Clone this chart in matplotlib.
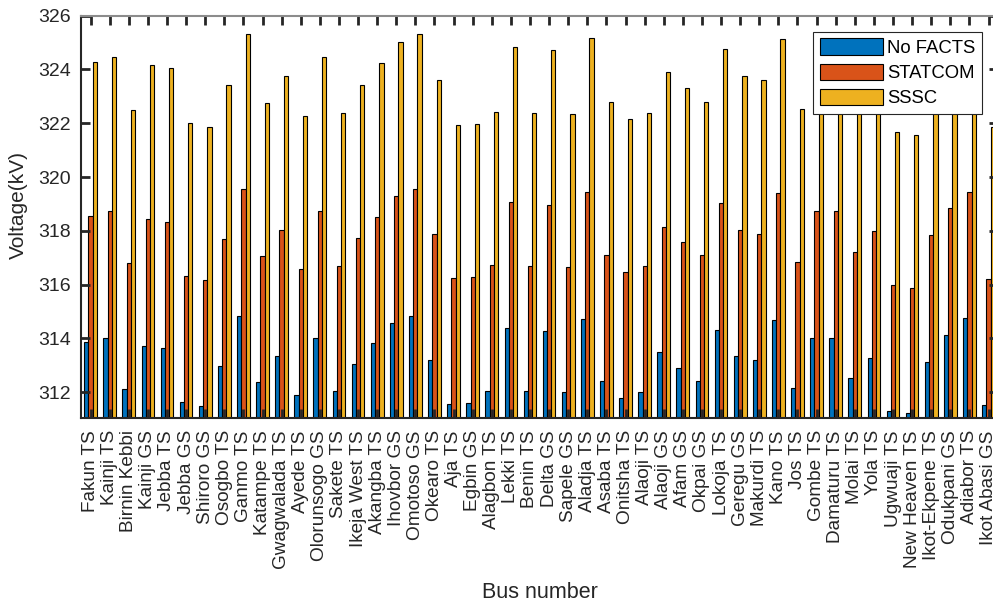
import matplotlib
matplotlib.use("Agg")
import matplotlib.pyplot as plt
import numpy as np

plt.rcParams['font.family'] = ['Liberation Sans', 'DejaVu Sans']

buses = ["Fakun TS", "Kainji TS", "Birnin Kebbi", "Kainji GS", "Jebba TS", "Jebba GS",
         "Shiroro GS", "Osogbo TS", "Ganmo TS", "Katampe TS", "Gwagwalada TS", "Ayede TS",
         "Olorunsogo GS", "Sakete TS", "Ikeja West TS", "Akangba TS", "Ihovbor GS",
         "Omotoso GS", "Okearo TS", "Aja TS", "Egbin GS", "Alagbon TS", "Lekki TS",
         "Benin TS", "Delta GS", "Sapele GS", "Aladja TS", "Asaba TS", "Onitsha TS",
         "Alaoji TS", "Alaoji GS", "Afam GS", "Okpai GS", "Lokoja TS", "Geregu GS",
         "Makurdi TS", "Kano TS", "Jos TS", "Gombe TS", "Damaturu TS", "Molai TS",
         "Yola TS", "Ugwuaji TS", "New Heaven TS", "Ikot-Ekpene TS", "Odukpani GS",
         "Adiabor TS", "Ikot Abasi GS"]

no_facts = [313.85, 314.02, 312.11, 313.72, 313.63, 311.65, 311.48, 312.99, 314.85, 312.36,
            313.34, 311.90, 314.01, 312.03, 313.03, 313.81, 314.57, 314.84, 313.19, 311.55,
            311.60, 312.04, 314.37, 312.03, 314.26, 311.99, 314.73, 312.41, 311.80, 312.01,
            313.48, 312.89, 312.42, 314.33, 313.34, 313.20, 314.67, 312.15, 314.03, 314.02,
            312.53, 313.28, 311.31, 311.22, 313.13, 314.12, 314.74, 311.52]

statcom = [318.54, 318.72, 316.79, 318.43, 318.33, 316.33, 316.16, 317.68, 319.56, 317.05,
           318.04, 316.58, 318.72, 316.70, 317.72, 318.50, 319.28, 319.55, 317.88, 316.23,
           316.28, 316.72, 319.08, 316.70, 318.97, 316.66, 319.43, 317.09, 316.46, 316.69,
           318.16, 317.58, 317.09, 319.03, 318.04, 317.90, 319.39, 316.83, 318.73, 318.72,
           317.20, 317.98, 315.97, 315.89, 317.83, 318.83, 319.45, 316.19]

sssc = [324.28, 324.45, 322.48, 324.15, 324.05, 322.02, 321.85, 323.41, 325.31, 322.74,
        323.76, 322.27, 324.45, 322.39, 323.43, 324.23, 325.02, 325.31, 323.60, 321.92,
        321.96, 322.42, 324.82, 322.39, 324.71, 322.35, 325.18, 322.79, 322.17, 322.38,
        323.89, 323.30, 322.79, 324.77, 323.76, 323.61, 325.13, 322.53, 324.46, 324.45,
        322.96, 323.71, 321.66, 321.56, 323.56, 324.55, 325.17, 321.87]

series = [("No FACTS", no_facts, "#0072BD"),
          ("STATCOM", statcom, "#D95319"),
          ("SSSC", sssc, "#EDB120")]

fig = plt.figure(figsize=(9.93, 6.05), dpi=100)
ax = fig.add_axes([81 / 993, 1 - 417.7 / 605, 917.1 / 993, 402 / 605])

# grouped bars, three per bus
x = np.arange(1, len(buses) + 1)
w = 0.222
for i, (name, vals, col) in enumerate(series):
    ax.bar(x + (i - 1) * w, vals, w, bottom=0, color=col, edgecolor="black",
           linewidth=0.8, label=name)

ax.set_xlim(0.5, 48.5)
ax.set_ylim(311.05, 326)
ax.set_yticks(np.arange(312, 327, 2))
ax.set_xticks(x)
ax.set_xticklabels(buses, rotation=90, fontsize=13.7, color="#262626")
ax.tick_params(axis="y", labelsize=14, labelcolor="#262626")
ax.tick_params(direction="in", length=6.8, width=2, color="#262626",
               top=True, right=True)
ax.tick_params(axis="x", pad=9)
ax.tick_params(axis="y", pad=7)

for s in ["left", "bottom"]:
    ax.spines[s].set_linewidth(1.5)
    ax.spines[s].set_color("#262626")
for s in ["top", "right"]:
    ax.spines[s].set_linewidth(1.5)
    ax.spines[s].set_color("#8c8c8c")

ax.set_ylabel("Voltage(kV)", fontsize=15, color="#262626")
ax.yaxis.set_label_coords(-0.058, 0.528)
ax.set_xlabel("Bus number", fontsize=15.5, color="#262626")
ax.xaxis.set_label_coords(0.5, -0.408)

leg = ax.legend(loc="upper right", bbox_to_anchor=(982 / 993, 1 - 32 / 605),
                bbox_transform=fig.transFigure, fontsize=13.3, frameon=True,
                fancybox=False, edgecolor="#262626", framealpha=1,
                handlelength=3.4, handleheight=1.0, handletextpad=0.25,
                labelspacing=0.35, borderpad=0.35, borderaxespad=0)
leg.get_frame().set_linewidth(0.8)

fig.savefig("out.png", dpi=100)
